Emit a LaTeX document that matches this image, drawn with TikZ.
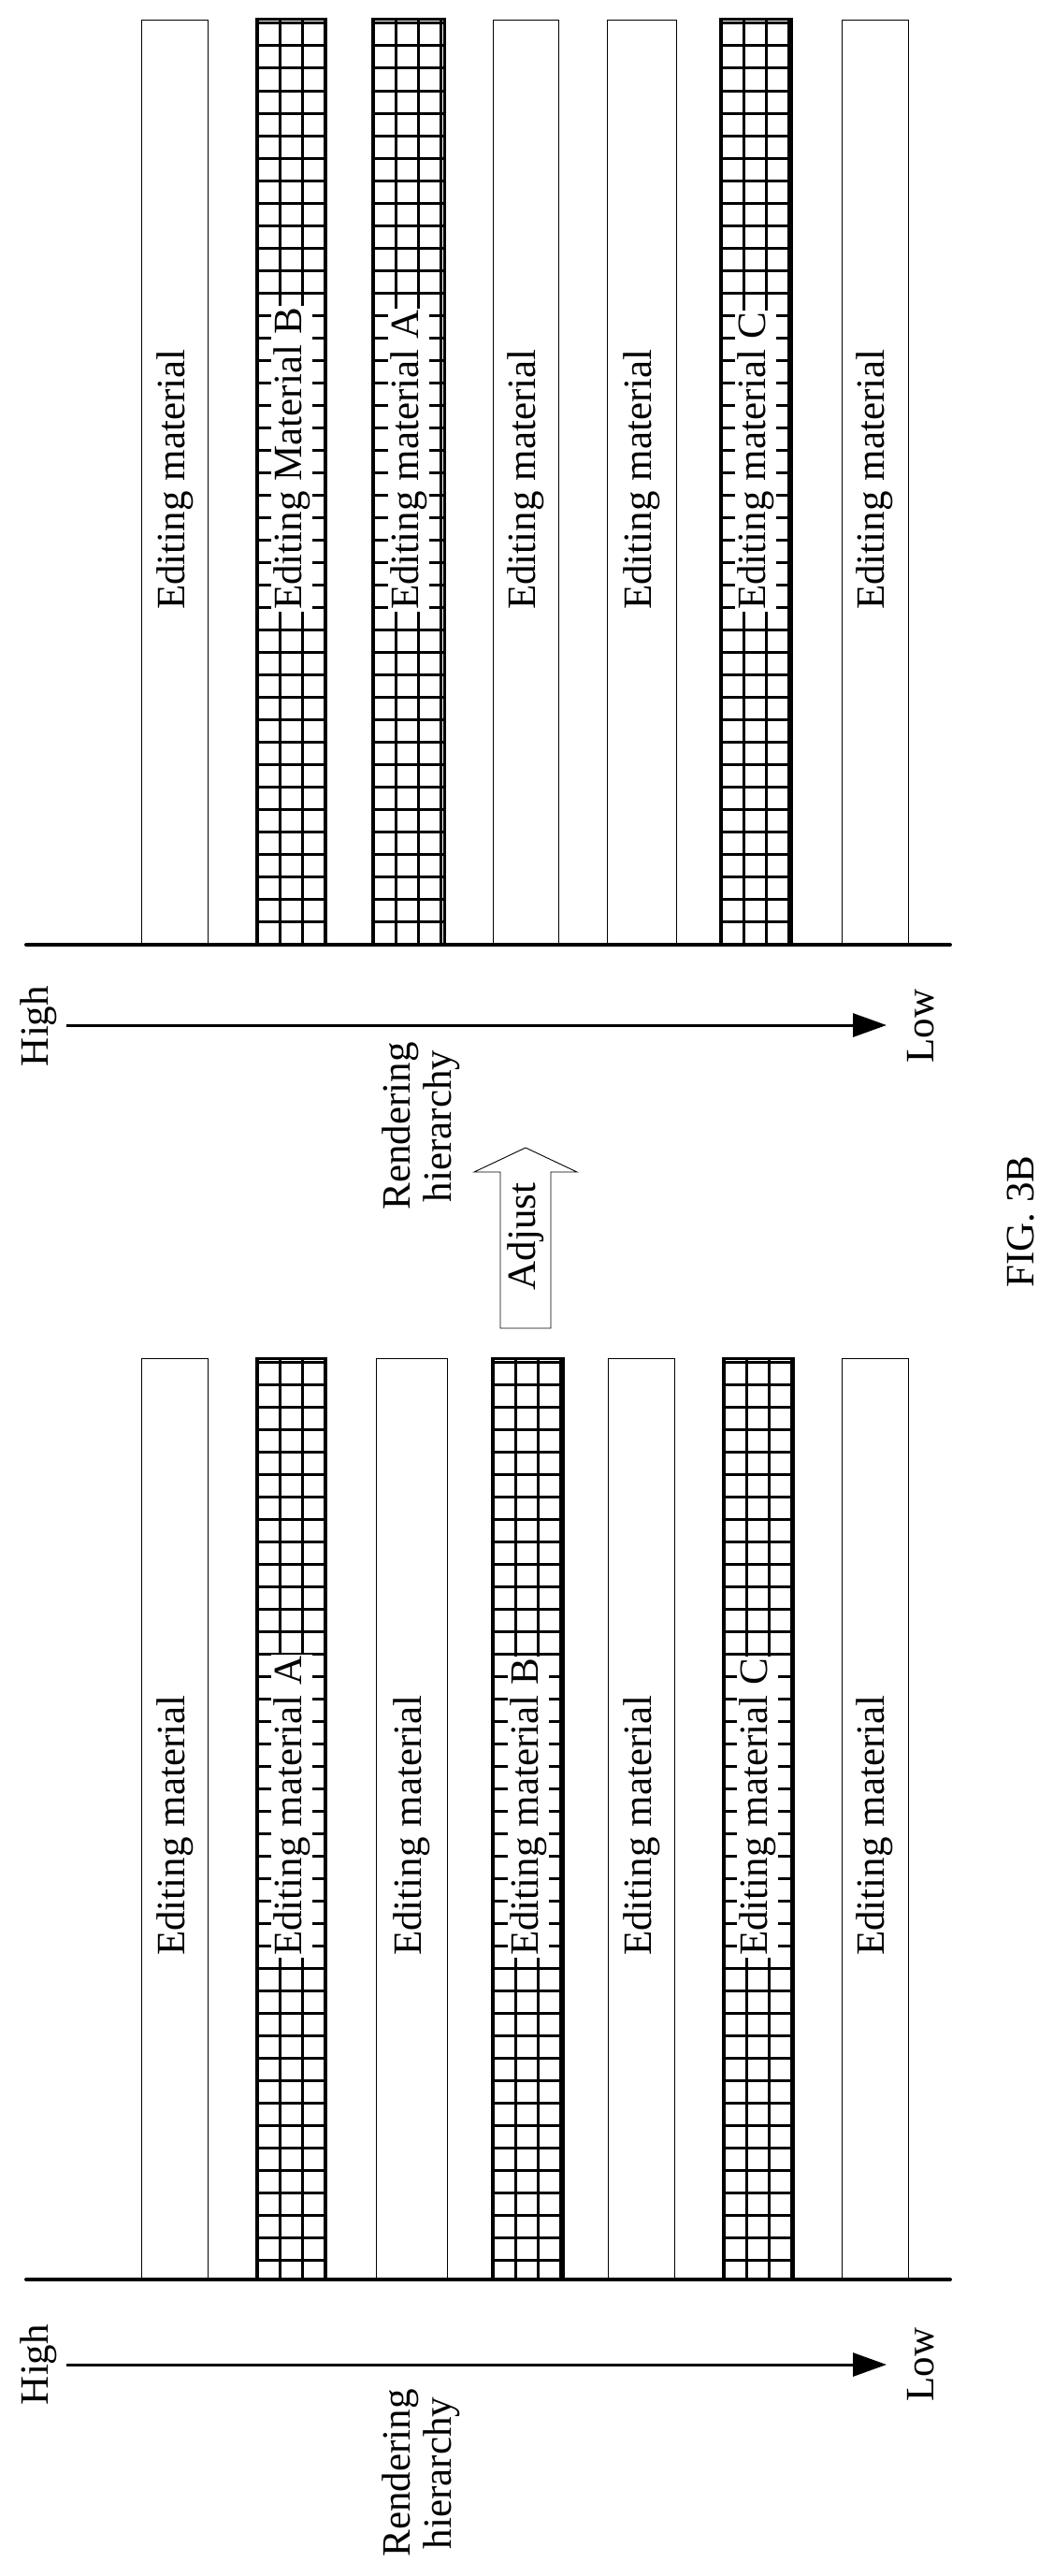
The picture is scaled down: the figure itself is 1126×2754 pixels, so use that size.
\documentclass[tikz,border=0pt]{standalone}
\usepackage{fontspec}
\setmainfont{Liberation Serif}
\usetikzlibrary{arrows.meta, positioning}
\tikzset{
    >={Triangle[length=36pt, width=25pt]},
    plainbar/.style={draw, line width=0.9pt, fill=white},
    gridline/.style={line width=3pt},
    label/.style={rotate=90, anchor=west, font=\fontsize{43}{48}\selectfont, inner sep=2pt},
    maskedlabel/.style={label, fill=white},
    base/.style={line width=4pt, line cap=round},
    axis/.style={->, line width=3pt},
    txt/.style={rotate=90, font=\fontsize{43}{44}\selectfont, align=center},
}
% bar with grid hatching: #1 left, #2 right, #3 top, #4 bottom
\newcommand{\gridbar}[4]{%
    \begin{scope}
        \clip (#1,#3) rectangle (#2,#4);
        \foreach \gx in {0,24,...,120} \draw[gridline] (#1+\gx+1.5,#3) -- (#1+\gx+1.5,#4);
        \foreach \gy in {0,24,...,1100} \draw[gridline] (#1,#3+\gy+4) -- (#2,#3+\gy+4);
    \end{scope}
    \draw[gridline] (#1,#3) rectangle (#2,#4);
}
\begin{document}
\begin{tikzpicture}[x=1pt, y=-1pt]
    \useasboundingbox (0,0) rectangle (1126,2754);

    % --- Upper panel (after adjusting) ---
    \draw[plainbar] (151,21) rectangle (222,1010);
    \gridbar{274}{348}{21}{1010}
    \gridbar{398}{475}{21}{1010}
    \draw[plainbar] (527,21) rectangle (597,1010);
    \draw[plainbar] (649,21) rectangle (723,1010);
    \gridbar{770}{846}{21}{1010}
    \draw[plainbar] (900,21) rectangle (971,1010);

    \node[label] (u1) at (187,654) {Editing material};
    \node[maskedlabel] (u2) at (312,654) {Editing Material B};
    \node[maskedlabel] (u3) at (437,654) {Editing material A};
    \node[label] (u4) at (562,654) {Editing material};
    \node[label] (u5) at (686,654) {Editing material};
    \node[maskedlabel] (u6) at (808,654) {Editing material C};
    \node[label] (u7) at (935,654) {Editing material};

    \coordinate (ubl) at (28,1010);
    \coordinate (ubr) at (1016,1010);
    \draw[base] (ubl) -- (ubr);
    \coordinate (uas) at (71,1096);
    \coordinate (uae) at (948,1096);
    \draw[axis] (uas) -- (uae);
    \node[txt] (uhigh) at (41,1097) {High};
    \node[txt] (ulow) at (985,1097) {Low};
    \node[txt] (urh) at (450,1204) {Rendering\\hierarchy};

    % --- Adjust arrow ---
    \draw[line width=0.9pt] (535,1420) -- (535,1253) -- (507,1253) -- (562,1227)
        -- (617,1253) -- (589,1253) -- (589,1420) -- cycle;
    \node[txt] (adjust) at (562,1322) {Adjust};

    \node[txt] (fig) at (1092,1306) {FIG. 3B};

    % --- Lower panel (before adjusting) ---
    \draw[plainbar] (151,1452) rectangle (222,2437);
    \gridbar{274}{348}{1452}{2437}
    \draw[plainbar] (402,1452) rectangle (478,2437);
    \gridbar{526}{602}{1452}{2437}
    \draw[plainbar] (650,1452) rectangle (721,2437);
    \gridbar{773}{848}{1452}{2437}
    \draw[plainbar] (900,1452) rectangle (971,2437);

    \node[label] (l1) at (187,2093) {Editing material};
    \node[maskedlabel] (l2) at (312,2093) {Editing material A};
    \node[label] (l3) at (440,2093) {Editing material};
    \node[maskedlabel] (l4) at (565,2093) {Editing material B};
    \node[label] (l5) at (686,2093) {Editing material};
    \node[maskedlabel] (l6) at (810,2093) {Editing material C};
    \node[label] (l7) at (935,2093) {Editing material};

    \coordinate (lbl) at (28,2437);
    \coordinate (lbr) at (1016,2437);
    \draw[base] (lbl) -- (lbr);
    \coordinate (las) at (71,2528);
    \coordinate (lae) at (948,2528);
    \draw[axis] (las) -- (lae);
    \node[txt] (lhigh) at (41,2528) {High};
    \node[txt] (llow) at (985,2528) {Low};
    \node[txt] (lrh) at (450,2644) {Rendering\\hierarchy};
\end{tikzpicture}
\end{document}
